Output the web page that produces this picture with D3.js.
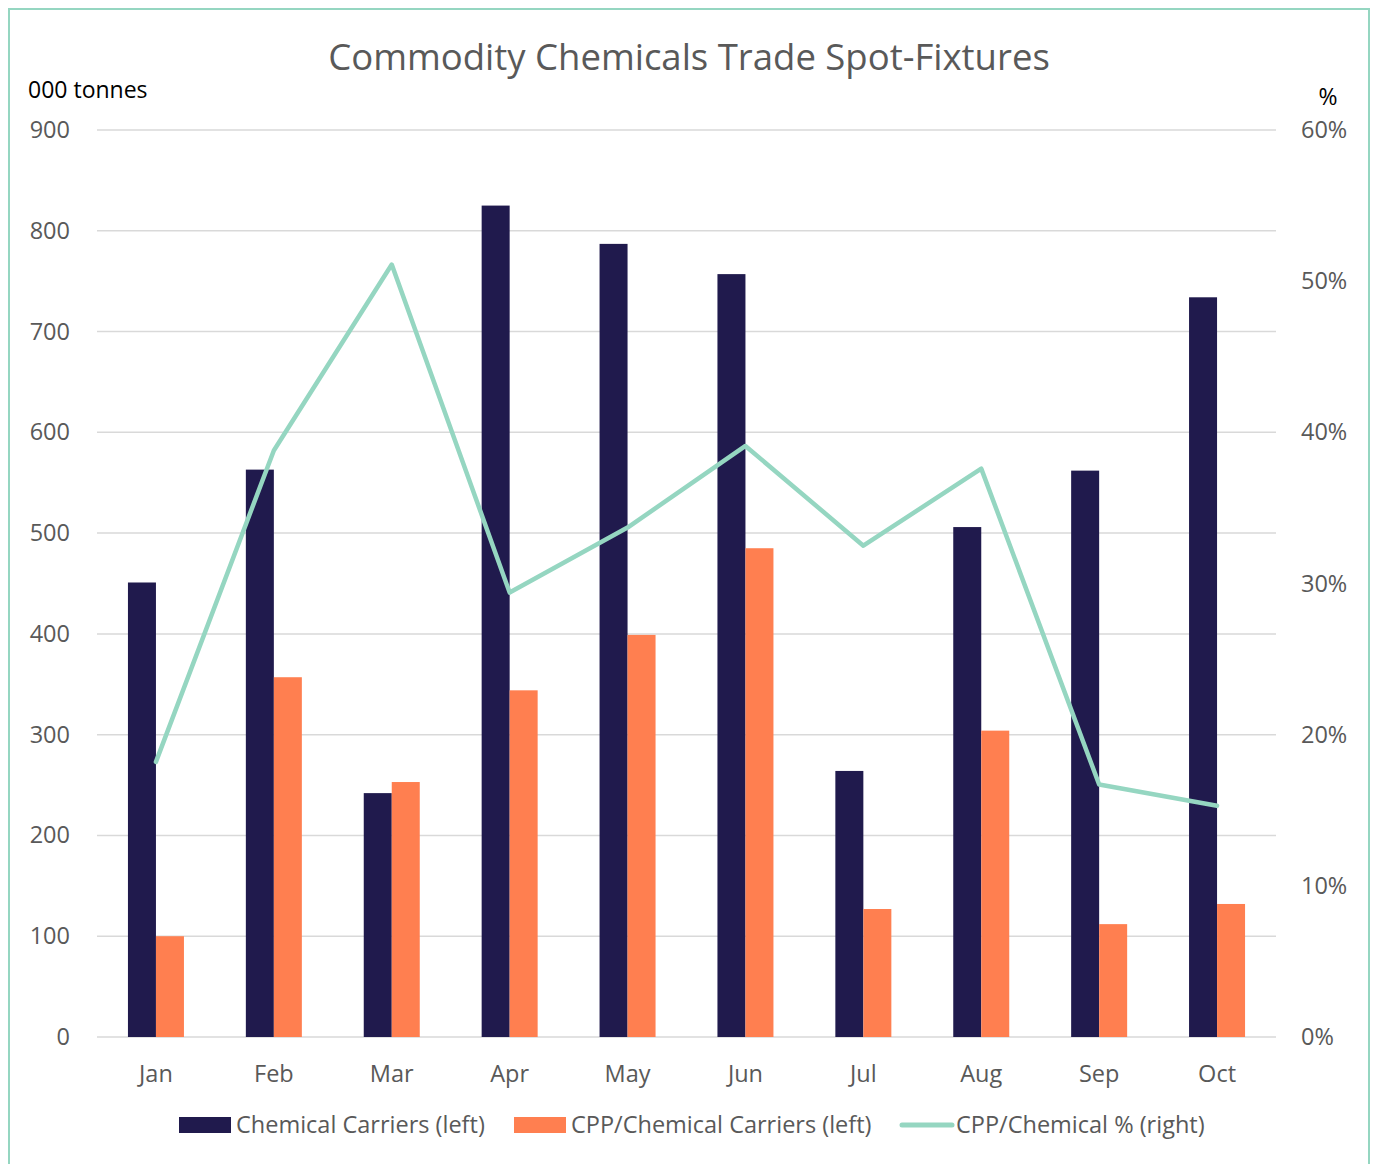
<!DOCTYPE html>
<html>
<head>
<meta charset="utf-8">
<script src="https://cdn.jsdelivr.net/npm/d3@7"></script>
<style>
  body { margin: 0; background: #fff; }
  svg text { font-family: "Open Sans", Lato, sans-serif; }
</style>
</head>
<body>
<div id="chart"></div>
<script>
const months = ["Jan", "Feb", "Mar", "Apr", "May", "Jun", "Jul", "Aug", "Sep", "Oct"];
const chemicalCarriers = [451, 563, 242, 825, 787, 757, 264, 506, 562, 734];
const cppCarriers = [100, 357, 253, 344, 399, 485, 127, 304, 112, 132];
const cppShare = [18.2, 38.8, 51.1, 29.4, 33.7, 39.1, 32.5, 37.6, 16.7, 15.3];
const leftTicks = [0, 100, 200, 300, 400, 500, 600, 700, 800, 900];
const rightTicks = [0, 10, 20, 30, 40, 50, 60];

const width = 1375, height = 1164;
const plot = {left: 97, right: 1276, top: 130, bottom: 1037};
const grey = "#595959";
const navy = "#201a4d", coral = "#ff7f50", mint = "#95d6c1";

const svg = d3.select("#chart").append("svg")
    .attr("width", width)
    .attr("height", height);

// outer frame
svg.append("rect")
    .attr("x", 9).attr("y", 9)
    .attr("width", 1360).attr("height", 1170)
    .attr("fill", "none")
    .attr("stroke", mint)
    .attr("stroke-width", 2);

const x = d3.scaleBand().domain(months).range([plot.left, plot.right]);
const yLeft = d3.scaleLinear().domain([0, 900]).range([plot.bottom, plot.top]);
const yRight = d3.scaleLinear().domain([0, 60]).range([plot.bottom, plot.top]);
const barW = 28;

// gridlines
svg.append("g")
    .selectAll("line")
    .data(leftTicks)
    .join("line")
    .attr("x1", plot.left).attr("x2", plot.right)
    .attr("y1", d => yLeft(d)).attr("y2", d => yLeft(d))
    .attr("stroke", "#d9d9d9")
    .attr("stroke-width", 1.5);

// left axis
const leftAxis = svg.append("g")
    .attr("transform", `translate(${plot.left},0)`)
    .call(d3.axisLeft(yLeft).tickValues(leftTicks).tickSize(0).tickPadding(27));
leftAxis.select(".domain").remove();
leftAxis.selectAll("text").attr("fill", grey).style("font-size", "23.5px");

// right axis
const rightAxis = svg.append("g")
    .attr("transform", `translate(${plot.right},0)`)
    .call(d3.axisRight(yRight).tickValues(rightTicks).tickSize(0).tickPadding(25).tickFormat(d => d + "%"));
rightAxis.select(".domain").remove();
rightAxis.selectAll("text").attr("fill", grey).style("font-size", "23.5px");

// month labels
const bottomAxis = svg.append("g")
    .attr("transform", `translate(0,${plot.bottom})`)
    .call(d3.axisBottom(x).tickSize(0).tickPadding(28));
bottomAxis.select(".domain").remove();
bottomAxis.selectAll("text").attr("fill", grey).style("font-size", "23.5px");

// bars
svg.append("g")
    .selectAll("rect")
    .data(chemicalCarriers)
    .join("rect")
    .attr("x", (d, i) => x(months[i]) + x.bandwidth() / 2 - barW)
    .attr("y", d => yLeft(d))
    .attr("width", barW)
    .attr("height", d => yLeft(0) - yLeft(d))
    .attr("fill", navy);

svg.append("g")
    .selectAll("rect")
    .data(cppCarriers)
    .join("rect")
    .attr("x", (d, i) => x(months[i]) + x.bandwidth() / 2)
    .attr("y", d => yLeft(d))
    .attr("width", barW)
    .attr("height", d => yLeft(0) - yLeft(d))
    .attr("fill", coral);

// share line
const line = d3.line()
    .x((d, i) => x(months[i]) + x.bandwidth() / 2)
    .y(d => yRight(d));

svg.append("path")
    .datum(cppShare)
    .attr("d", line)
    .attr("fill", "none")
    .attr("stroke", mint)
    .attr("stroke-width", 4.5)
    .attr("stroke-linejoin", "round")
    .attr("stroke-linecap", "round");

// titles
svg.append("text")
    .attr("x", 689).attr("y", 70)
    .attr("text-anchor", "middle")
    .attr("fill", grey)
    .style("font-size", "36.5px")
    .text("Commodity Chemicals Trade Spot-Fixtures");

svg.append("text")
    .attr("x", 28).attr("y", 98)
    .attr("fill", "#000")
    .style("font-size", "23px")
    .text("000 tonnes");

svg.append("text")
    .attr("x", 1328).attr("y", 105)
    .attr("text-anchor", "middle")
    .attr("fill", "#000")
    .style("font-size", "23px")
    .text("%");

// legend
const legend = [
    {label: "Chemical Carriers (left)", color: navy, type: "rect", x: 179},
    {label: "CPP/Chemical Carriers (left)", color: coral, type: "rect", x: 514},
    {label: "CPP/Chemical % (right)", color: mint, type: "line", x: 899}
];
const lg = svg.append("g").attr("transform", "translate(0,1125)");
legend.forEach(item => {
    if (item.type === "rect") {
        lg.append("rect")
            .attr("x", item.x).attr("y", -8)
            .attr("width", 52).attr("height", 16)
            .attr("fill", item.color);
    } else {
        lg.append("line")
            .attr("x1", item.x + 3).attr("x2", item.x + 53)
            .attr("y1", 0).attr("y2", 0)
            .attr("stroke", item.color)
            .attr("stroke-width", 5)
            .attr("stroke-linecap", "round");
    }
    lg.append("text")
        .attr("x", item.x + 57).attr("y", 0)
        .attr("dy", "0.35em")
        .attr("fill", grey)
        .style("font-size", "23.5px")
        .text(item.label);
});
</script>
</body>
</html>
